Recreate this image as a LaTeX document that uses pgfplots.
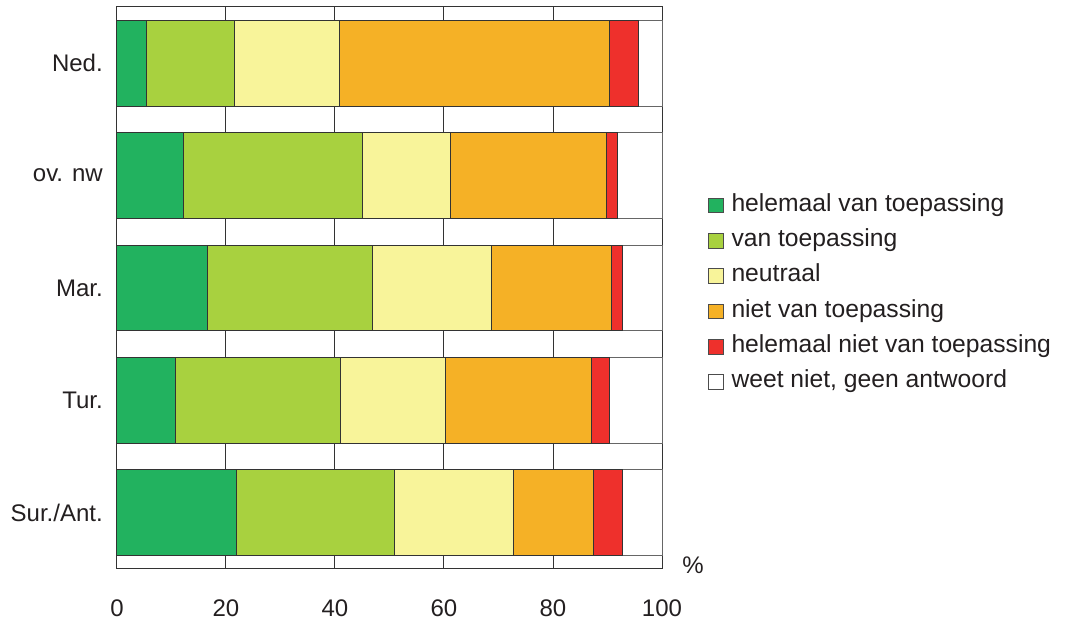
\documentclass[border=0pt]{standalone}
\usepackage{fontspec}
\setmainfont{Liberation Sans}
\usepackage{pgfplots}
\pgfplotsset{compat=1.18}
\usepackage{pgfplotstable}

\definecolor{cA}{HTML}{22B25F}
\definecolor{cB}{HTML}{A8D13F}
\definecolor{cC}{HTML}{F8F49A}
\definecolor{cD}{HTML}{F5B126}
\definecolor{cE}{HTML}{EE302C}
\definecolor{cF}{HTML}{FFFFFF}
\definecolor{txt}{HTML}{231F20}

\pgfplotstableread{
y a b c d e f
0 21.9 29.1 21.8 14.6 5.3 7.3
1 10.8 30.3 19.2 26.7 3.4 9.6
2 16.6 30.3 21.9 22.0 1.9 7.3
3 12.2 32.8 16.2 28.7 2.0 8.1
4 5.4 16.2 19.3 49.5 5.3 4.3
}\data

\begin{document}
\fontsize{18}{21.6}\selectfont
\begin{tikzpicture}
\path[use as bounding box] (-87.75pt,-38.25pt) rectangle (711pt,426.75pt);
\begin{axis}[
  at={(0,0)}, anchor=south west,
  scale only axis, width=408.75pt, height=421.5pt,
  xbar stacked, bar width=0.765,
  xmin=0, xmax=100, ymin=-0.5, ymax=4.5,
  xtick={0,20,...,100}, ytick={0,...,4},
  yticklabels={Sur./Ant.,Tur.,Mar.,ov. nw,Ned.},
  major tick length=0pt,
  xmajorgrids, grid style={black!80, line width=0.75pt},
  axis line style={black!80, line width=0.75pt},
  tick label style={font=\fontsize{18}{21.6}\selectfont, text=txt},
  xticklabel style={yshift=-17pt},
  yticklabel style={xshift=-4.5pt},
  /pgf/number format/assume math mode=true,
  clip=false,
  legend image code/.code={\draw[#1, line width=0.6pt, draw=black!70] (0pt,-5.5pt) rectangle (11pt,5.5pt);},
  legend cell align=left,
  legend style={at={(axis description cs:1.084,0.490)}, anchor=west, draw=none, fill=none, inner sep=0pt,
    font=\fontsize{18.5}{22}\selectfont, text=txt,
    nodes={inner ysep=1pt, inner xsep=6pt, text height=13pt, text depth=4pt},
    row sep=7.5pt},
]
\addplot[fill=cA, draw=black!80, line width=0.75pt] table[x=a, y=y]{\data};
\addplot[fill=cB, draw=black!80, line width=0.75pt] table[x=b, y=y]{\data};
\addplot[fill=cC, draw=black!80, line width=0.75pt] table[x=c, y=y]{\data};
\addplot[fill=cD, draw=black!80, line width=0.75pt] table[x=d, y=y]{\data};
\addplot[fill=cE, draw=black!80, line width=0.75pt] table[x=e, y=y]{\data};
\addplot[fill=cF, draw=black!60, line width=0.75pt] table[x=f, y=y]{\data};
\legend{helemaal van toepassing, van toepassing, neutraal, niet van toepassing, helemaal niet van toepassing, {weet niet, geen antwoord}}
\node[text=txt, font=\fontsize{18}{21.6}\selectfont] at (axis description cs:1.057,0.007) {\%};
\end{axis}
\end{tikzpicture}
\end{document}
